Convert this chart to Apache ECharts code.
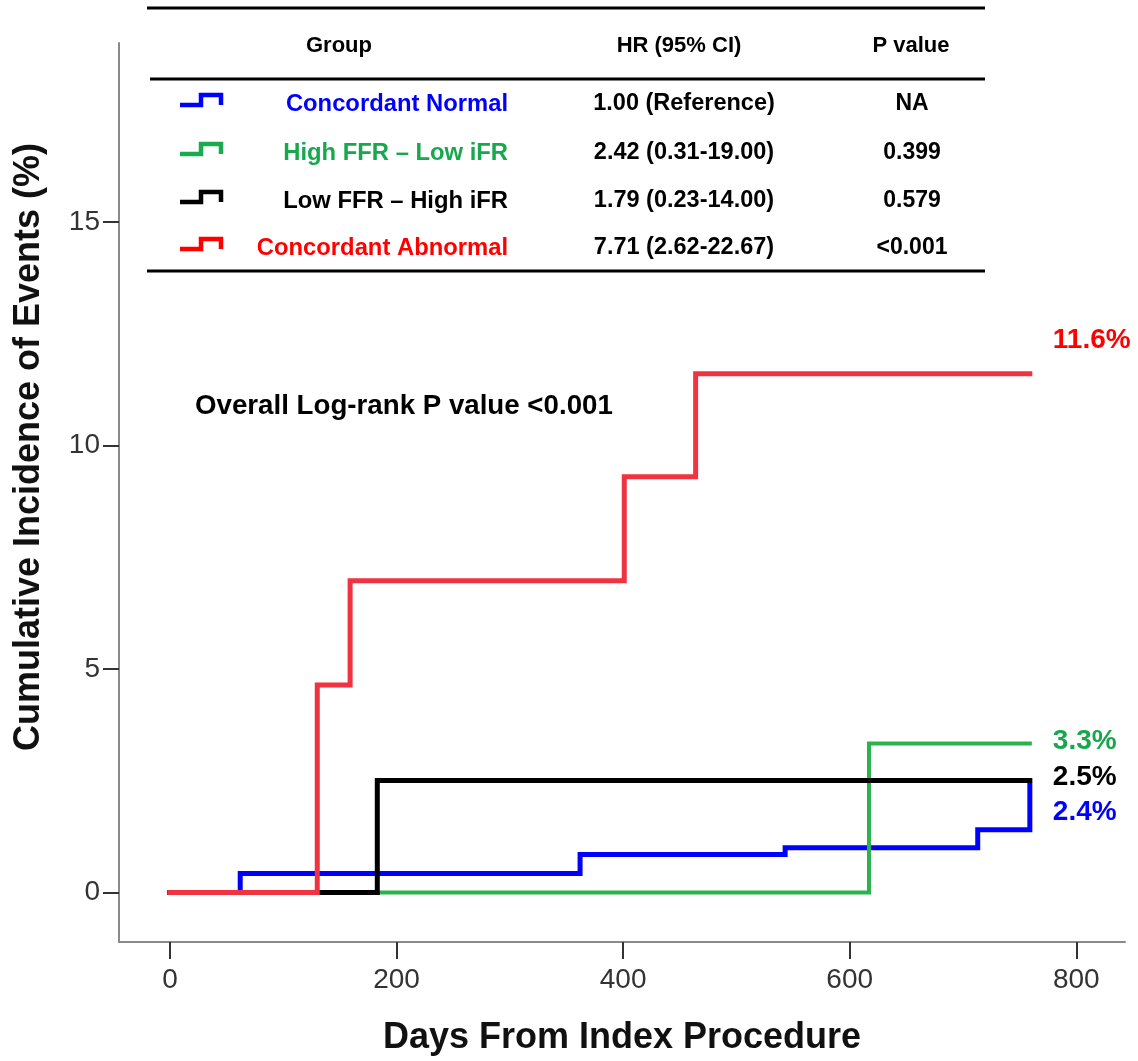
<!DOCTYPE html>
<html><head><meta charset="utf-8">
<script src="https://cdn.jsdelivr.net/npm/echarts@6/dist/echarts.min.js"></script>
<style>html,body{margin:0;padding:0;background:#fff}#c{width:1138px;height:1061px}</style>
</head><body><div id="c"></div>
<script>
// ---- data ----
const groupNames = ['Concordant Normal', 'High FFR \u2013 Low iFR', 'Low FFR \u2013 High iFR', 'Concordant Abnormal'];
const hrTexts = ['1.00 (Reference)', '2.42 (0.31-19.00)', '1.79 (0.23-14.00)', '7.71 (2.62-22.67)'];
const pTexts = ['NA', '0.399', '0.579', '<0.001'];
const tableHeaders = ['Group', 'HR (95% CI)', 'P value'];
const normalDays = [0, 62, 362, 543, 713, 759];
const normalPct = [0, 0.42, 0.85, 1.0, 1.4, 2.4];
const highFfrLowIfrDays = [0, 617, 759];
const highFfrLowIfrPct = [0, 3.33, 3.33];
const lowFfrHighIfrDays = [0, 183, 759];
const lowFfrHighIfrPct = [0, 2.5, 2.5];
const abnormalDays = [0, 130, 159, 401, 464, 759];
const abnormalPct = [0, 4.64, 6.97, 9.3, 11.6, 11.6];
const endLabels = ['2.4%', '3.3%', '2.5%', '11.6%'];
const xTicks = [0, 200, 400, 600, 800];
const yTicks = [0, 5, 10, 15];
const annotation = 'Overall Log-rank P value <0.001';
const xTitle = 'Days From Index Procedure';
const yTitle = 'Cumulative Incidence of Events (%)';

// ---- styles ----
const lineColors = ['#0000ff', '#2bb24c', '#000000', '#ef3340'];
const textColors = ['#0000ff', '#17a84e', '#000000', '#ff0000'];
const iconColors = ['#0000ff', '#1aab50', '#000000', '#ff0000'];
const lineWidths = [5, 4, 5, 5];
const labelOffsets = [[23, 27], [23, -2], [23, -3], [23, -34]];
const FONT = '"Liberation Sans", Arial, Helvetica, sans-serif';
const TICKFONT = '"Liberation Sans Narrow", "Arial Narrow", "Liberation Sans", Arial, sans-serif';

const zip = (a, b) => a.map((v, i) => [v, b[i]]);
const seriesData = [
  zip(normalDays, normalPct),
  zip(highFfrLowIfrDays, highFfrLowIfrPct),
  zip(lowFfrHighIfrDays, lowFfrHighIfrPct),
  zip(abnormalDays, abnormalPct)
];

const series = seriesData.map((d, i) => ({
  type: 'line',
  name: groupNames[i],
  step: 'end',
  data: d,
  symbol: 'none',
  z: 2 + i,
  lineStyle: { color: lineColors[i], width: lineWidths[i], cap: 'square', join: 'miter' },
  endLabel: {
    show: true,
    formatter: endLabels[i],
    distance: 0,
    offset: labelOffsets[i],
    color: textColors[i],
    fontFamily: FONT,
    fontWeight: 'bold',
    fontSize: 28
  },
  emphasis: { disabled: true }
}));

// ---- table graphics ----
const graphic = [];
const tableLines = [[147, 8], [150, 79], [147, 271]];
tableLines.forEach(([x1, y]) => graphic.push({
  type: 'line', shape: { x1: x1, y1: y, x2: 985, y2: y },
  style: { stroke: '#000', lineWidth: 3 }, silent: true
}));
const headerX = [339, 679, 911];
tableHeaders.forEach((t, i) => graphic.push({
  type: 'text', x: headerX[i], y: 46,
  style: { text: t, font: 'bold 22px ' + FONT, fill: '#000', textAlign: 'center', textVerticalAlign: 'middle' }
}));
const rowY = [104, 153, 201, 248];
groupNames.forEach((g, i) => {
  const y = rowY[i];
  graphic.push({
    type: 'polyline',
    shape: { points: [[180, y + 1], [201, y + 1], [201, y - 9], [221, y - 9], [221, y + 1]] },
    style: { stroke: iconColors[i], lineWidth: 4.5, fill: null, lineJoin: 'miter' }, silent: true
  });
  graphic.push({
    type: 'text', x: 508, y: y,
    style: { text: g, font: 'bold 23.8px ' + FONT, fill: textColors[i], textAlign: 'right', textVerticalAlign: 'middle' }
  });
  graphic.push({
    type: 'text', x: 684, y: y,
    style: { text: hrTexts[i], font: 'bold 23.5px ' + FONT, fill: '#000', textAlign: 'center', textVerticalAlign: 'middle' }
  });
  graphic.push({
    type: 'text', x: 912, y: y,
    style: { text: pTexts[i], font: 'bold 23px ' + FONT, fill: '#000', textAlign: 'center', textVerticalAlign: 'middle' }
  });
});
graphic.push({
  type: 'text', x: 195, y: 406,
  style: { text: annotation, font: 'bold 27.7px ' + FONT, fill: '#000', textAlign: 'left', textVerticalAlign: 'middle' }
});
graphic.push({
  type: 'text', x: 29, y: 447, rotation: Math.PI / 2,
  style: { text: yTitle, font: 'bold 36px ' + FONT, fill: '#111', textAlign: 'center', textVerticalAlign: 'middle' }
});

const chart = echarts.init(document.getElementById('c'), null, { renderer: 'canvas' });
chart.setOption({
  animation: false,
  backgroundColor: '#fff',
  grid: { left: 119, right: 13, top: 43, bottom: 115, containLabel: false },
  xAxis: {
    type: 'value', min: -45, max: 843,
    name: xTitle, nameLocation: 'middle', nameGap: 78,
    nameTextStyle: { fontFamily: FONT, fontWeight: 'bold', fontSize: 36, color: '#111' },
    axisLine: { show: true, onZero: false, lineStyle: { color: '#8a8a8a', width: 2 } },
    axisTick: { show: true, customValues: xTicks, length: 17, lineStyle: { color: '#333', width: 2 } },
    axisLabel: { customValues: xTicks, margin: 24, fontFamily: TICKFONT, fontSize: 28, color: '#333' },
    splitLine: { show: false }
  },
  yAxis: {
    type: 'value', min: -1.11, max: 19.0,
    axisLine: { show: true, onZero: false, lineStyle: { color: '#8a8a8a', width: 2 } },
    axisTick: { show: true, customValues: yTicks, length: 16, lineStyle: { color: '#333', width: 2 } },
    axisLabel: { customValues: yTicks, margin: 19, fontFamily: TICKFONT, fontSize: 28, color: '#333' },
    splitLine: { show: false }
  },
  graphic: graphic,
  series: series
});
</script>
</body></html>
